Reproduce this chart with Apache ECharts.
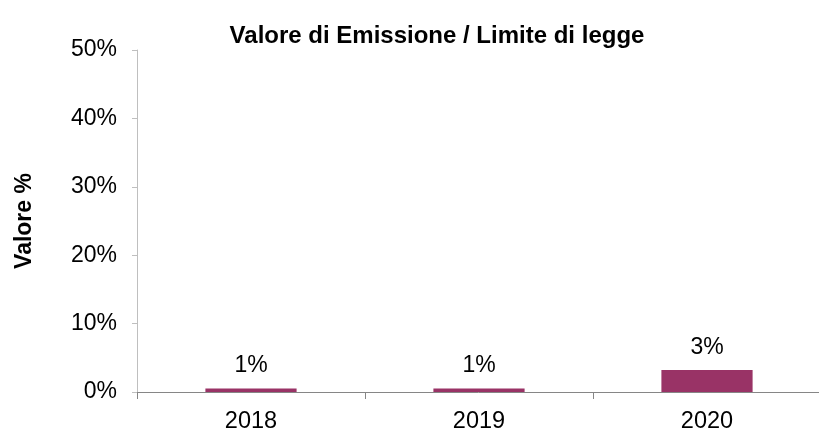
<!DOCTYPE html>
<html>
<head>
<meta charset="utf-8">
<script src="https://cdn.jsdelivr.net/npm/echarts@6/dist/echarts.min.js"></script>
<style>
  html, body { margin: 0; padding: 0; background: #fff; }
  #main { width: 819px; height: 430px; }
</style>
</head>
<body>
<div id="main"></div>
<script>
// dati
const anni = ["2018", "2019", "2020"];
const valori = [0.5, 0.5, 3.2]; // valore %

const FONT = "Liberation Sans, Arial, sans-serif";

const myChart = echarts.init(document.getElementById("main"), null, {
  renderer: "canvas",
});

myChart.setOption({
  backgroundColor: "#fff",
  textStyle: { fontFamily: FONT },

  title: {
    text: "Valore di Emissione / Limite di legge",
    left: 432,
    textAlign: "center",
    top: 19,
    textStyle: {
      fontFamily: FONT,
      fontSize: 24,
      fontWeight: "bold",
      color: "#000",
    },
  },

  // niente ridimensionamento automatico della griglia
  grid: {
    left: 137,
    top: 50,
    bottom: 38,
    width: 684,
    outerBoundsMode: "none",
    containLabel: false,
  },

  xAxis: {
    type: "category",
    data: anni,
    axisLine: { lineStyle: { color: "#868686", width: 1 } },
    axisTick: { show: true, length: 7, lineStyle: { color: "#868686" } },
    axisLabel: {
      margin: 18,
      fontFamily: FONT,
      fontSize: 23.5,
      color: "#000",
    },
  },

  yAxis: {
    type: "value",
    min: 0,
    max: 50,
    interval: 10,
    name: "Valore %",
    nameLocation: "middle",
    nameGap: 101,
    nameTextStyle: {
      fontFamily: FONT,
      fontSize: 23,
      fontWeight: "bold",
      color: "#000",
    },
    axisLine: { show: true, lineStyle: { color: "#bfbfbf", width: 1 } },
    axisTick: { show: true, length: 5, lineStyle: { color: "#bfbfbf" } },
    splitLine: { show: false },
    axisLabel: {
      formatter: "{value}%",
      margin: 20,
      fontFamily: FONT,
      fontSize: 23,
      color: "#000",
    },
  },

  series: [
    {
      type: "bar",
      data: valori,
      barWidth: "40%",
      itemStyle: { color: "#993366" },
      label: {
        show: true,
        position: "top",
        distance: 11,
        fontFamily: FONT,
        fontSize: 23,
        color: "#000",
        formatter: (p) => Math.round(p.value) + "%",
      },
    },
  ],
});
</script>
</body>
</html>
